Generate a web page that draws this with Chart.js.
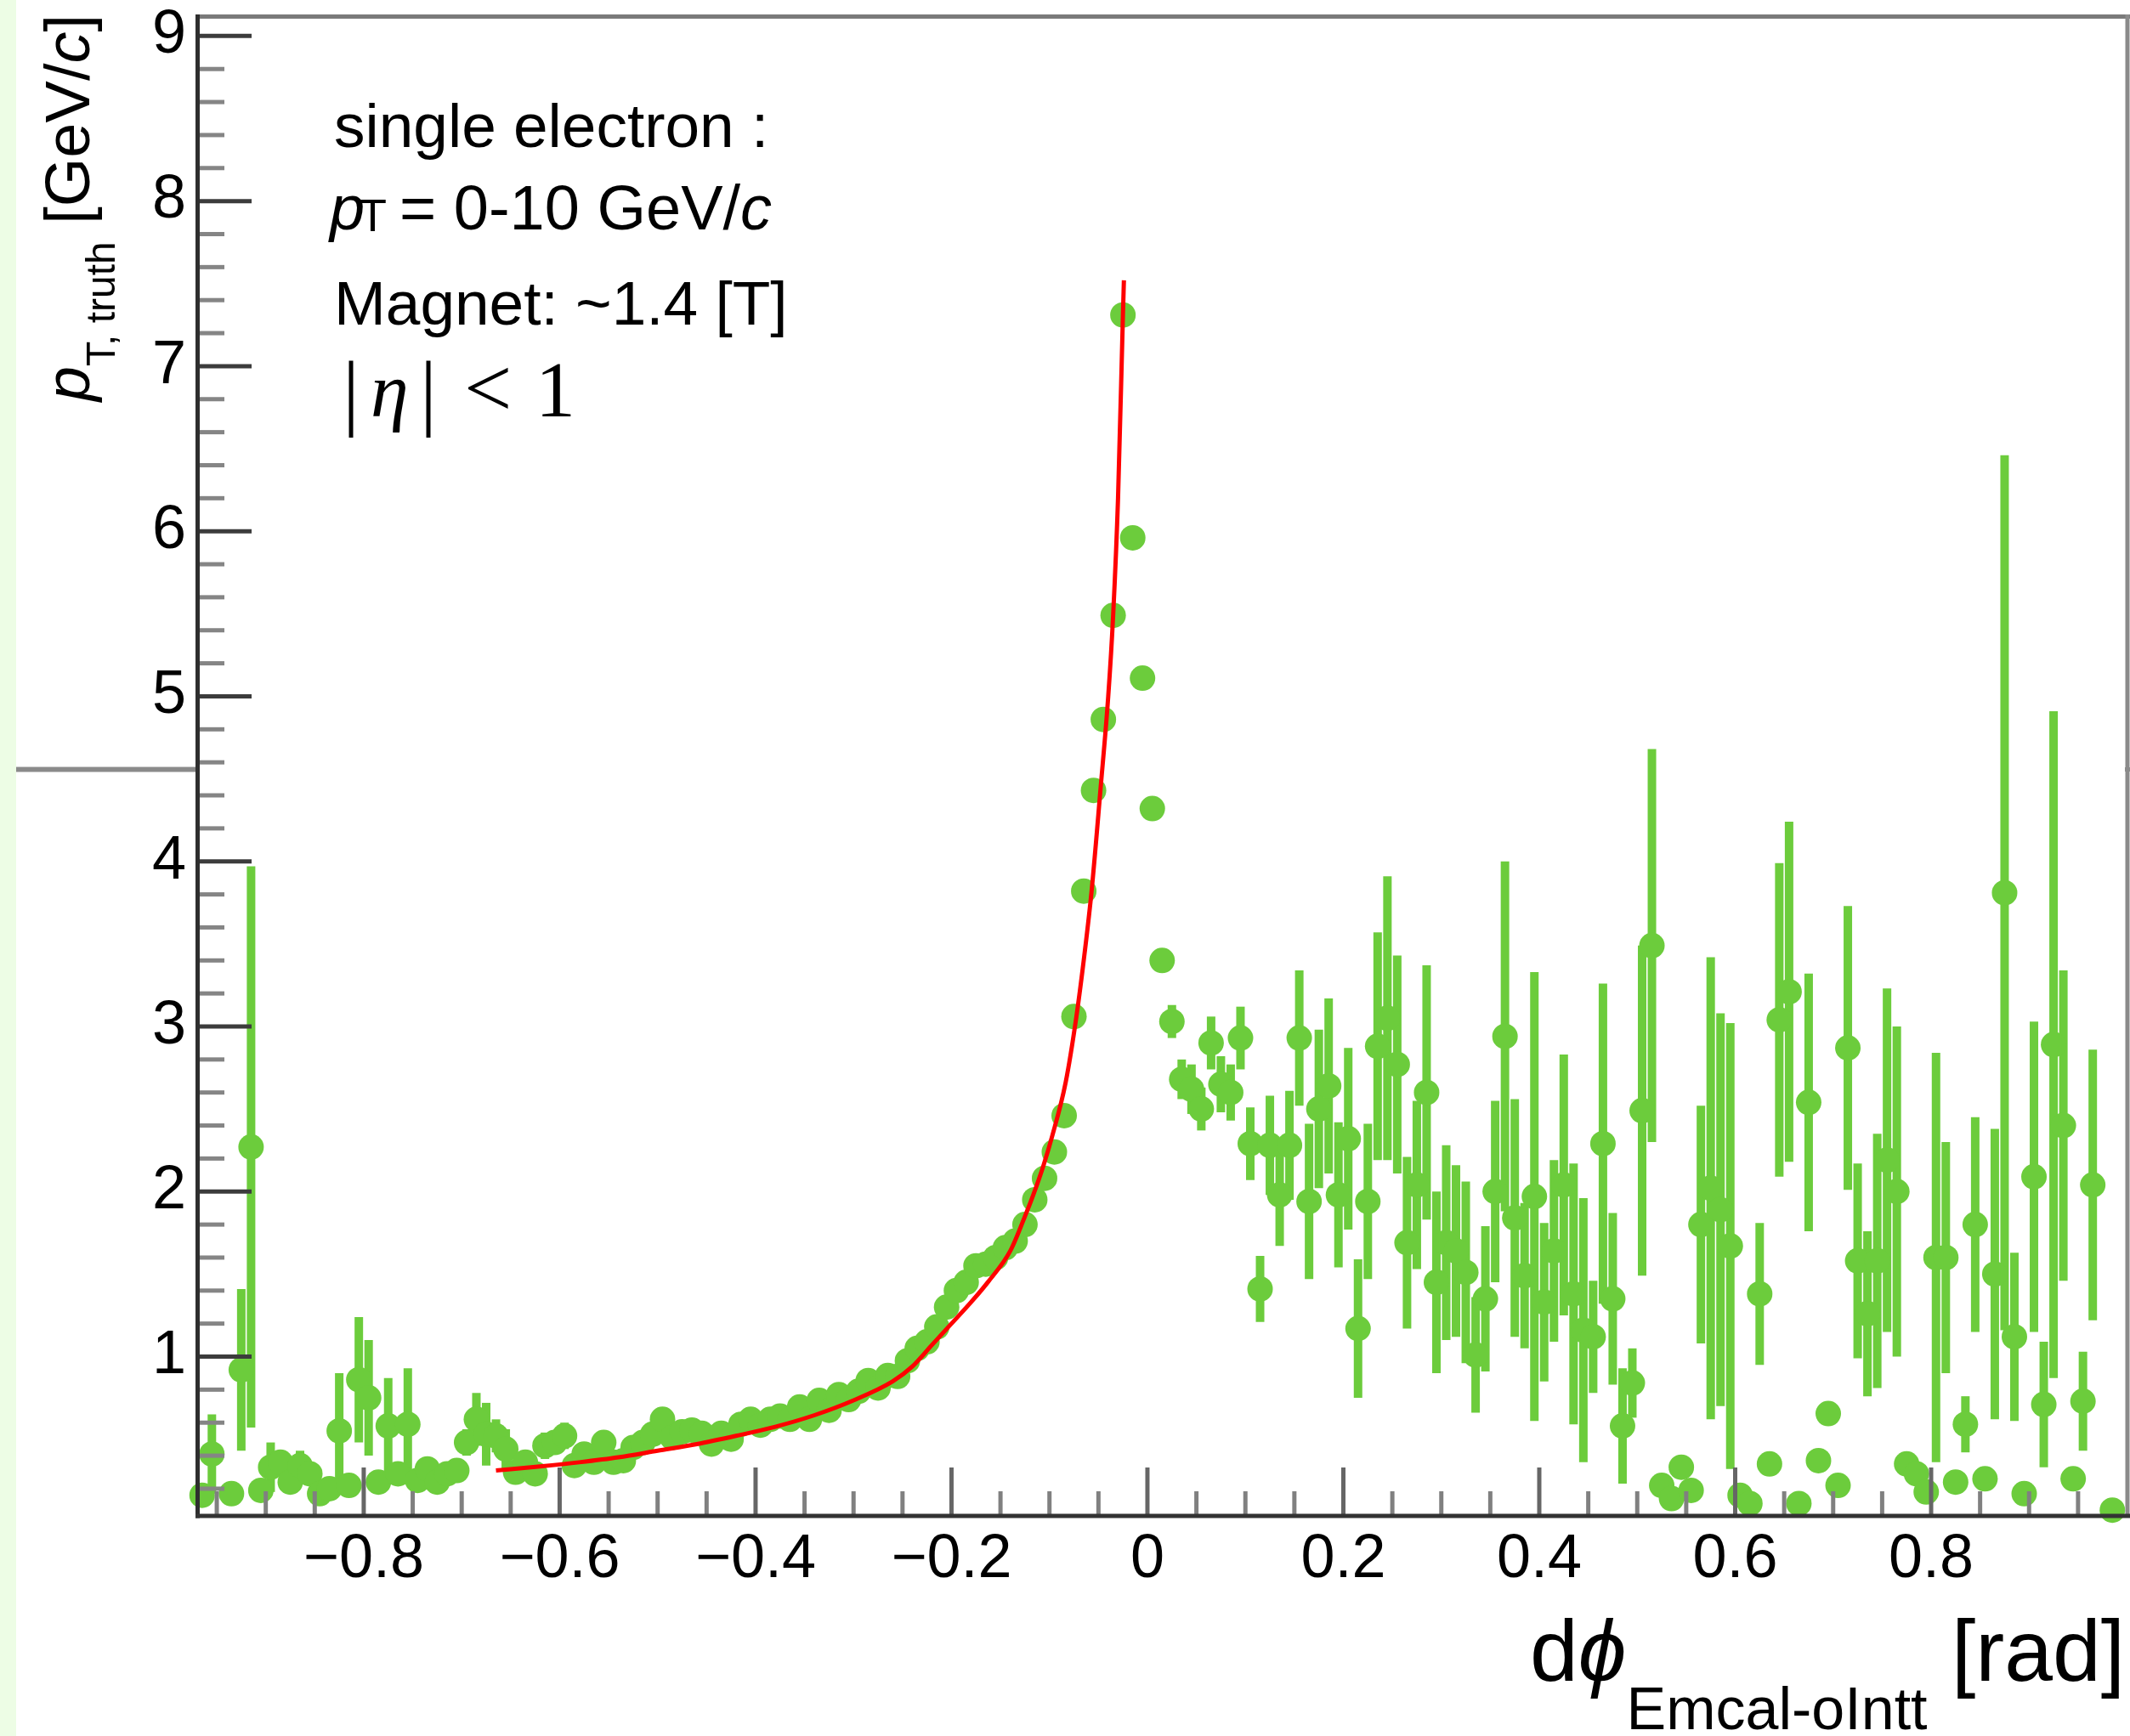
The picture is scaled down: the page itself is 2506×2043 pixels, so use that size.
<!DOCTYPE html>
<html>
<head>
<meta charset="utf-8">
<style>
html,body{margin:0;padding:0;background:#ffffff;}
canvas{display:block;}
</style>
<script src="https://cdn.jsdelivr.net/npm/chart.js@4/dist/chart.umd.min.js"></script>
</head>
<body>
<canvas id="c" width="2506" height="2043" style="width:2506px;height:2043px"></canvas>
<script>
// ---------------- data ----------------
const dphi = [
-0.965,-0.955,-0.935,-0.925,-0.915,-0.905,-0.895,-0.885,-0.875,-0.865,
-0.855,-0.845,-0.835,-0.825,-0.815,-0.805,-0.795,-0.785,-0.775,-0.765,
-0.755,-0.745,-0.735,-0.725,-0.715,-0.705,-0.695,-0.685,-0.675,-0.665,
-0.655,-0.645,-0.635,-0.625,-0.615,-0.605,-0.595,-0.585,-0.575,-0.565,
-0.555,-0.545,-0.535,-0.525,-0.515,-0.505,-0.495,-0.485,-0.475,-0.465,
-0.455,-0.445,-0.435,-0.425,-0.415,-0.405,-0.395,-0.385,-0.375,-0.365,
-0.355,-0.345,-0.335,-0.325,-0.315,-0.305,-0.295,-0.285,-0.275,-0.265,
-0.255,-0.245,-0.235,-0.225,-0.215,-0.205,-0.195,-0.185,-0.175,-0.165,
-0.155,-0.145,-0.135,-0.125,-0.115,-0.105,-0.095,-0.085,-0.075,-0.065,
-0.055,-0.045,-0.035,-0.025,-0.015,-0.005,0.005,0.015,0.025,0.035,
0.045,0.055,0.065,0.075,0.085,0.095,0.105,0.115,0.125,0.135,
0.145,0.155,0.165,0.175,0.185,0.195,0.205,0.215,0.225,0.235,
0.245,0.255,0.265,0.275,0.285,0.295,0.305,0.315,0.325,0.335,
0.345,0.355,0.365,0.375,0.385,0.395,0.405,0.415,0.425,0.435,
0.445,0.455,0.465,0.475,0.485,0.495,0.505,0.515,0.525,0.535,
0.545,0.555,0.565,0.575,0.585,0.595,0.605,0.615,0.625,0.635,
0.645,0.655,0.665,0.675,0.685,0.695,0.705,0.715,0.725,0.735,
0.745,0.755,0.765,0.775,0.785,0.795,0.805,0.815,0.825,0.835,
0.845,0.855,0.865,0.875,0.885,0.895,0.905,0.915,0.925,0.935,
0.945,0.955,0.965,0.985
];
const ptMean = [
0.16,0.41,0.17,0.92,2.27,0.19,0.33,0.36,0.24,0.34,
0.29,0.17,0.20,0.55,0.22,0.86,0.75,0.24,0.58,0.29,
0.59,0.25,0.32,0.24,0.29,0.31,0.48,0.62,0.53,0.52,
0.44,0.30,0.36,0.29,0.46,0.48,0.52,0.34,0.41,0.36,
0.48,0.36,0.37,0.45,0.48,0.53,0.62,0.51,0.545,0.555,
0.535,0.47,0.535,0.50,0.59,0.62,0.585,0.62,0.64,0.62,
0.695,0.62,0.735,0.675,0.77,0.74,0.79,0.855,0.81,0.885,
0.88,0.975,1.05,1.09,1.18,1.30,1.40,1.45,1.55,1.56,
1.60,1.66,1.70,1.80,1.95,2.08,2.24,2.46,3.06,3.82,
4.43,4.86,5.49,7.31,5.96,5.11,4.32,3.40,3.03,2.68,
2.62,2.50,2.90,2.65,2.60,2.93,2.29,1.41,2.28,1.98,
2.28,2.93,1.94,2.50,2.64,1.98,2.32,1.17,1.94,2.88,
3.05,2.77,1.69,2.04,2.60,1.45,1.69,1.64,1.51,1.01,
1.35,2.00,2.94,1.84,1.49,1.97,1.33,1.64,2.04,1.38,
1.16,1.12,2.29,1.35,0.58,0.84,2.49,3.49,0.22,0.14,
0.33,0.19,1.80,2.02,1.89,1.67,0.16,0.11,1.38,0.35,
3.04,3.21,0.11,2.54,0.37,0.655,0.22,2.87,1.58,1.26,
1.58,2.19,2.00,0.35,0.29,0.18,1.60,1.60,0.24,0.59,
1.80,0.26,1.50,3.81,1.12,0.17,2.09,0.71,2.89,2.40,
0.26,0.73,2.04,0.07
];
const ptErr = [
0,0.24,0,0.49,1.70,0,0.15,0.06,0,0.09,
0.06,0,0,0.35,0,0.38,0.35,0,0.29,0,
0.34,0,0,0,0,0,0.08,0.16,0.19,0.10,
0.12,0,0.03,0,0.08,0,0.08,0,0,0,
0.06,0,0,0,0,0,0,0,0,0,
0,0,0,0,0,0,0,0,0,0,
0,0,0,0,0,0,0,0,0,0,
0,0,0,0,0,0,0,0,0,0,
0,0,0,0,0,0,0,0,0,0,
0,0,0,0,0,0,0,0.03,0.10,0.12,
0.15,0.13,0.16,0.17,0.17,0.19,0.22,0.20,0.30,0.31,
0.33,0.41,0.47,0.48,0.53,0.44,0.55,0.42,0.47,0.69,
0.86,0.66,0.52,0.51,0.77,0.55,0.59,0.52,0.55,0.35,
0.44,0.55,1.06,0.72,0.44,1.36,0.48,0.55,0.79,0.79,
0.80,0.34,0.97,0.52,0.35,0.21,1.00,1.19,0,0,
0.05,0,0.72,1.40,1.19,1.35,0,0,0.43,0.04,
0.95,1.03,0,0.78,0.06,0,0,0.86,0.59,0.50,
0.77,1.04,1.00,0.07,0.03,0,1.24,0.70,0,0.17,
0.65,0.03,0.88,2.65,0.51,0,0.94,0.38,2.02,0.94,
0,0.30,0.82,0
];
// red fit curve
const fitX = [-0.665,-0.62,-0.58,-0.54,-0.50,-0.46,-0.42,-0.38,-0.34,-0.30,-0.26,-0.24,-0.22,-0.20,-0.18,-0.163,-0.14,-0.125,-0.1165,-0.106,-0.097,-0.0835,-0.0725,-0.064,-0.057,-0.048,-0.040,-0.035,-0.030,-0.025,-0.024];
const fitY = [0.31,0.335,0.36,0.39,0.43,0.47,0.52,0.575,0.645,0.735,0.85,0.94,1.07,1.20,1.33,1.45,1.64,1.85,1.98,2.16,2.34,2.66,3.06,3.45,3.82,4.43,5.0,5.49,6.2,7.31,7.52];
// axes
const xTickValues = [-0.8,-0.6,-0.4,-0.2,0,0.2,0.4,0.6,0.8];
const xTickLabels = ['\u22120.8','\u22120.6','\u22120.4','\u22120.2','0','0.2','0.4','0.6','0.8'];
const yTickValues = [1,2,3,4,5,6,7,8,9];
const yTickLabels = ['1','2','3','4','5','6','7','8','9'];
const xRange = [-0.97, 0.99];
const yRange = [0.035, 9.11];
const infoLines = ['single electron :', 'Magnet: ~1.4 [T]'];

// ---------------- styling ----------------
const SANS = '"Liberation Sans", Arimo, Arial, Helvetica, sans-serif';
const SERIF = '"Liberation Serif", Tinos, "Times New Roman", serif';
const GREEN = 'rgb(108,204,60)';
const AREA = {left:232, right:2502, top:21, bottom:1784};

function drawPieces(ctx, pieces, x0, y0) {
  let x = x0;
  for (const p of pieces) {
    ctx.font = p.font;
    ctx.fillText(p.t, x, y0 + (p.dy || 0));
    x += ctx.measureText(p.t).width;
  }
  return x - x0;
}
function widthPieces(ctx, pieces) {
  let w = 0;
  for (const p of pieces) { ctx.font = p.font; w += ctx.measureText(p.t).width; }
  return w;
}

const bgPlugin = {
  id: 'bg',
  beforeDraw(chart) {
    const ctx = chart.ctx;
    ctx.save();
    ctx.fillStyle = '#ffffff';
    ctx.fillRect(0, 0, chart.width, chart.height);
    ctx.fillStyle = '#edfde5';
    ctx.fillRect(0, 0, 19, chart.height);
    // slide divider line
    ctx.fillStyle = '#c9c9c9';
    ctx.fillRect(19, 902, 213, 7);
    ctx.fillStyle = '#8a8a8a';
    ctx.fillRect(19, 903, 213, 5);
    ctx.fillRect(2500, 903, 6, 5);
    ctx.restore();
  }
};

const errPlugin = {
  id: 'errbars',
  beforeDatasetsDraw(chart) {
    const ctx = chart.ctx, xs = chart.scales.x, ys = chart.scales.y;
    ctx.save();
    ctx.strokeStyle = GREEN;
    ctx.lineWidth = 10;
    ctx.lineCap = 'butt';
    for (let i = 0; i < dphi.length; i++) {
      const e = ptErr[i];
      if (!e) continue;
      const px = xs.getPixelForValue(dphi[i]);
      const lo = Math.max(ptMean[i] - e, yRange[0]);
      const hi = Math.min(ptMean[i] + e, yRange[1]);
      ctx.beginPath();
      ctx.moveTo(px, ys.getPixelForValue(hi));
      ctx.lineTo(px, ys.getPixelForValue(lo));
      ctx.stroke();
    }
    ctx.restore();
  }
};

const framePlugin = {
  id: 'frame',
  afterDatasetsDraw(chart) {
    const ctx = chart.ctx, xs = chart.scales.x, ys = chart.scales.y;
    const ca = chart.chartArea;
    ctx.save();
    ctx.lineCap = 'butt';
    // top and right frame
    ctx.lineWidth = 5;
    ctx.strokeStyle = '#7a7a7a';
    ctx.beginPath(); ctx.moveTo(ca.left, 19.5); ctx.lineTo(2506, 19.5); ctx.stroke();
    ctx.strokeStyle = '#8a8a8a';
    ctx.beginPath(); ctx.moveTo(2503, 17); ctx.lineTo(2503, ca.bottom); ctx.stroke();
    // y ticks (major 1.0, minor 0.2)
    for (let k = 1; k <= 50; k++) {
      const v = Math.round(k * 0.2 * 10) / 10;
      if (v > ys.max) break;
      const py = ys.getPixelForValue(v);
      const major = (k % 5 === 0);
      ctx.strokeStyle = major ? '#3c3c3c' : '#858585';
      ctx.lineWidth = 5;
      ctx.beginPath(); ctx.moveTo(ca.left, py); ctx.lineTo(ca.left + (major ? 64 : 32), py); ctx.stroke();
    }
    // x ticks (major 0.2, minor 0.05)
    for (let k = -20; k <= 20; k++) {
      const v = Math.round(k * 0.05 * 100) / 100;
      if (v <= xs.min || v >= xs.max) continue;
      const px = xs.getPixelForValue(v);
      const major = (k % 4 === 0);
      ctx.strokeStyle = major ? '#666666' : '#808080';
      ctx.lineWidth = 5;
      ctx.beginPath(); ctx.moveTo(px, ca.bottom); ctx.lineTo(px, ca.bottom - (major ? 57 : 29)); ctx.stroke();
    }
    // axis lines
    ctx.strokeStyle = '#2e2e2e';
    ctx.lineWidth = 5;
    ctx.beginPath(); ctx.moveTo(ca.left + 0.5, 17); ctx.lineTo(ca.left + 0.5, ca.bottom + 2.5); ctx.stroke();
    ctx.strokeStyle = '#333333';
    ctx.beginPath(); ctx.moveTo(ca.left - 2, ca.bottom); ctx.lineTo(2506, ca.bottom); ctx.stroke();
    ctx.restore();
  }
};

const textPlugin = {
  id: 'texts',
  afterDraw(chart) {
    const ctx = chart.ctx;
    ctx.save();
    ctx.fillStyle = '#000000';
    ctx.textBaseline = 'alphabetic';
    ctx.textAlign = 'left';
    // y axis title (rotated)
    const yPieces = [
      {t:'p', font:'italic 74px ' + SANS},
      {t:'T, truth', font:'48px ' + SANS, dy:30},
      {t:' [GeV/', font:'74px ' + SANS},
      {t:'c', font:'italic 74px ' + SANS},
      {t:']', font:'74px ' + SANS}
    ];
    const yw = widthPieces(ctx, yPieces);
    ctx.save();
    ctx.translate(105, 17 + yw);
    ctx.rotate(-Math.PI / 2);
    drawPieces(ctx, yPieces, 0, 0);
    ctx.restore();
    // x axis title
    const xPieces = [
      {t:'d', font:'102px ' + SANS},
      {t:'\u03D5', font:'italic 102px ' + SANS},
      {t:'Emcal-oIntt', font:'70px ' + SANS, dy:57},
      {t:' [rad]', font:'102px ' + SANS}
    ];
    const xw = widthPieces(ctx, xPieces);
    drawPieces(ctx, xPieces, 2500 - xw, 1978);
    // info text
    ctx.font = '73px ' + SANS;
    ctx.fillText(infoLines[0], 393, 173);
    drawPieces(ctx, [
      {t:'p', font:'italic 74px ' + SANS}
    ], 388, 270);
    ctx.font = '54px ' + SANS;
    ctx.fillText('T', 422, 272);
    drawPieces(ctx, [
      {t:'= 0-10 GeV/', font:'74px ' + SANS},
      {t:'c', font:'italic 74px ' + SANS}
    ], 470, 270);
    ctx.font = '73px ' + SANS;
    ctx.fillText(infoLines[1], 393, 382);
    // |eta| < 1 in serif math style
    ctx.font = '100px ' + SERIF;
    ctx.fillText('|', 403, 494);
    ctx.fillText('|', 494, 494);
    ctx.font = 'italic 90px ' + SERIF;
    ctx.fillText('\u03B7', 436, 490);
    ctx.font = '100px ' + SERIF;
    ctx.fillText('<', 546, 490);
    ctx.font = '94px ' + SERIF;
    ctx.fillText('1', 630, 490);
    ctx.restore();
  }
};

const ctx = document.getElementById('c').getContext('2d');
new Chart(ctx, {
  type: 'scatter',
  data: {
    datasets: [
      {
        type: 'line',
        label: 'fit',
        data: fitX.map((x, i) => ({x: x, y: fitY[i]})),
        borderColor: '#ff0000',
        borderWidth: 5,
        pointRadius: 0,
        fill: false,
        cubicInterpolationMode: 'monotone',
        order: 0,
        clip: false
      },
      {
        label: 'pT truth',
        data: dphi.map((x, i) => ({x: x, y: ptMean[i]})),
        backgroundColor: GREEN,
        borderWidth: 0,
        pointRadius: 15,
        pointHoverRadius: 15,
        order: 1,
        clip: false
      }
    ]
  },
  options: {
    responsive: false,
    animation: false,
    devicePixelRatio: 1,
    events: [],
    layout: { padding: {left: 0, right: 2506 - AREA.right, top: AREA.top, bottom: 0} },
    plugins: { legend: {display: false}, tooltip: {enabled: false}, title: {display: false} },
    scales: {
      x: {
        type: 'linear', position: 'bottom',
        min: xRange[0], max: xRange[1],
        grid: {display: false, drawTicks: false},
        border: {display: false},
        afterBuildTicks: s => { s.ticks = xTickValues.map(v => ({value: v})); },
        ticks: {
          autoSkip: false, maxRotation: 0, minRotation: 0, padding: 9,
          color: '#000000', font: {family: SANS, size: 72},
          callback: (v) => { const i = xTickValues.indexOf(v); return i >= 0 ? xTickLabels[i] : ''; }
        },
        afterFit: s => { s.height = 2043 - AREA.bottom; s.paddingLeft = 0; s.paddingRight = 0; }
      },
      y: {
        type: 'linear', position: 'left',
        min: yRange[0], max: yRange[1],
        grid: {display: false, drawTicks: false},
        border: {display: false},
        afterBuildTicks: s => { s.ticks = yTickValues.map(v => ({value: v})); },
        ticks: {
          autoSkip: false, padding: 13,
          color: '#000000', font: {family: SANS, size: 72},
          callback: (v) => { const i = yTickValues.indexOf(v); return i >= 0 ? yTickLabels[i] : ''; }
        },
        afterFit: s => { s.width = AREA.left; s.paddingTop = 0; s.paddingBottom = 0; }
      }
    }
  },
  plugins: [bgPlugin, errPlugin, framePlugin, textPlugin]
});
</script>
</body>
</html>
